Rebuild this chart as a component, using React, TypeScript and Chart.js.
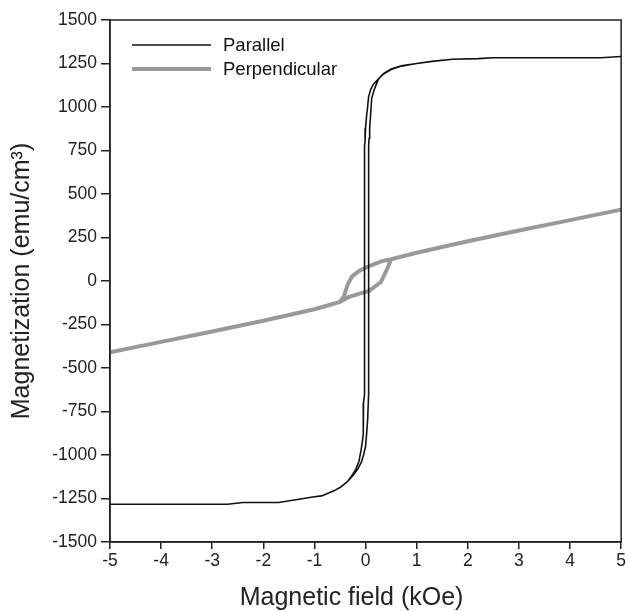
import React, { useEffect, useRef } from "react";
import { Chart, registerables } from "chart.js";

Chart.register(...registerables);

// Parallel: descending branch (+5 -> -5) followed by ascending branch (-5 -> +5)
const parallelH = [
  5, 4.6, 3.5, 2.5, 2.2, 1.7, 1.3, 1.0, 0.7, 0.5, 0.35, 0.25, 0.15, 0.1, 0.06, 0.04, 0.02, 0.0, -0.01, -0.02,
  -0.02, -0.04, -0.04, -0.05, -0.06, -0.09, -0.13, -0.19, -0.25, -0.35, -0.5, -0.62, -0.86, -1.0, -1.7, -2.4, -2.7, -5,
  -5, -2.7, -2.4, -1.7, -1.0, -0.86, -0.62, -0.5, -0.35, -0.23, -0.15, -0.08, -0.04, 0.0, 0.02, 0.04, 0.06,
  0.06, 0.07, 0.08, 0.1, 0.12, 0.17, 0.25, 0.35, 0.5, 0.7, 1.0, 1.3, 1.7, 2.2, 2.5, 3.5, 4.6, 5,
];
const parallelM = [
  1290, 1283, 1283, 1283, 1278, 1274, 1262, 1250, 1235, 1215, 1190, 1160, 1130, 1100, 1060, 1000, 950, 880, 800, 780,
  -650, -700, -850, -880, -917, -975, -1037, -1081, -1110, -1152, -1187, -1206, -1235, -1240, -1273, -1273, -1283, -1283,
  -1283, -1283, -1273, -1273, -1240, -1235, -1206, -1187, -1152, -1112, -1080, -1040, -1000, -950, -880, -800, -650,
  780, 820, 880, 960, 1050, 1100, 1160, 1192, 1218, 1237, 1250, 1262, 1274, 1278, 1283, 1283, 1283, 1290,
];

// Perpendicular: descending branch then ascending branch
const perpH = [
  5, 4, 3, 2, 1, 0.5, 0.32, 0.07, -0.13, -0.26, -0.35, -0.42, -0.5, -1, -2, -3, -4, -5,
  -5, -4, -3, -2, -1, -0.5, -0.32, -0.13, 0.07, 0.3, 0.42, 0.5, 1, 2, 3, 4, 5,
];
const perpM = [
  410, 350, 290, 228, 162, 125, 114, 86, 57, 28, -20, -86, -120, -162, -228, -290, -350, -410,
  -410, -350, -290, -228, -162, -120, -91, -74, -57, -6, 68, 125, 162, 228, 290, 350, 410,
];

const seriesNames = ["Parallel", "Perpendicular"];
const xTicks = [-5, -4, -3, -2, -1, 0, 1, 2, 3, 4, 5];
const yTickStep = 250;
const xTitle = "Magnetic field (kOe)";
const yTitle = "Magnetization (emu/cm³)";

const FONT = "'Liberation Sans', Arial, sans-serif";

export default function App() {
  const ref = useRef<HTMLCanvasElement | null>(null);

  useEffect(() => {
    document.body.style.margin = "0";
    const canvas = ref.current!;
    const toPts = (xs: number[], ys: number[]) => xs.map((x, i) => ({ x, y: ys[i] }));

    const framePlugin = {
      id: "frame",
      afterDraw(chart: any) {
        const { ctx, chartArea: a } = chart;
        ctx.save();
        ctx.strokeStyle = "#222";
        ctx.lineWidth = 1.5;
        ctx.strokeRect(a.left, a.top, a.right - a.left, a.bottom - a.top);
        // x title (sits a little left of the axis centre, as in the original)
        ctx.fillStyle = "#222";
        ctx.font = `25px ${FONT}`;
        ctx.textAlign = "center";
        ctx.textBaseline = "middle";
        ctx.fillText(xTitle, (a.left + a.right) / 2 - 14, 598);
        // legend
        const items = chart.data.datasets;
        const ys = [45, 69];
        items.forEach((ds: any, i: number) => {
          ctx.beginPath();
          ctx.strokeStyle = ds.borderColor;
          ctx.lineWidth = ds.borderWidth;
          ctx.moveTo(132, ys[i]);
          ctx.lineTo(211, ys[i]);
          ctx.stroke();
          ctx.fillStyle = "#111";
          ctx.font = `18.5px ${FONT}`;
          ctx.textBaseline = "middle";
          ctx.textAlign = "left";
          ctx.fillText(ds.label, 223, ys[i] + 1);
        });
        ctx.restore();
      },
    };

    const chart = new Chart(canvas, {
      type: "scatter",
      data: {
        datasets: [
          {
            label: seriesNames[0],
            data: toPts(parallelH, parallelM),
            showLine: true,
            borderColor: "#111",
            borderWidth: 1.6,
            pointRadius: 0,
            tension: 0,
          },
          {
            label: seriesNames[1],
            data: toPts(perpH, perpM),
            showLine: true,
            borderColor: "#999",
            borderWidth: 4,
            pointRadius: 0,
            tension: 0,
          },
        ],
      },
      options: {
        animation: false,
        responsive: false,
        maintainAspectRatio: false,
        layout: { padding: { left: 0, right: 4, top: 20, bottom: 0 } },
        plugins: { legend: { display: false }, tooltip: { enabled: false } },
        scales: {
          x: {
            type: "linear",
            min: -5,
            max: 5,
            afterBuildTicks: (s: any) => {
              s.ticks = xTicks.map((v) => ({ value: v }));
            },
            afterFit: (s: any) => {
              s.height = 69;
            },
            ticks: {
              color: "#222",
              font: { family: FONT, size: 17.5 },
              padding: 2,
              maxRotation: 0,
              callback: (v: any) => String(v),
            },
            grid: { drawOnChartArea: false, drawTicks: true, tickLength: 7, color: "#222", lineWidth: 1.5 },
            border: { display: true, color: "#222", width: 1.5 },
            title: { display: false, text: xTitle },
          },
          y: {
            type: "linear",
            min: -1500,
            max: 1500,
            ticks: {
              stepSize: yTickStep,
              color: "#222",
              font: { family: FONT, size: 17.5 },
              padding: 4,
              callback: (v: any) => String(v),
            },
            afterFit: (s: any) => {
              s.width = 110;
            },
            grid: { drawOnChartArea: false, drawTicks: true, tickLength: 9, color: "#222", lineWidth: 1.5 },
            border: { display: true, color: "#222", width: 1.5 },
            title: {
              display: true,
              text: yTitle,
              color: "#222",
              font: { family: FONT, size: 25, lineHeight: 1 },
              padding: { top: 10, bottom: 0 },
            },
          },
        },
      },
      plugins: [framePlugin],
    });
    return () => chart.destroy();
  }, []);

  return (
    <div style={{ width: 628, height: 611 }}>
      <canvas ref={ref} width={628} height={611} style={{ display: "block" }} />
    </div>
  );
}
